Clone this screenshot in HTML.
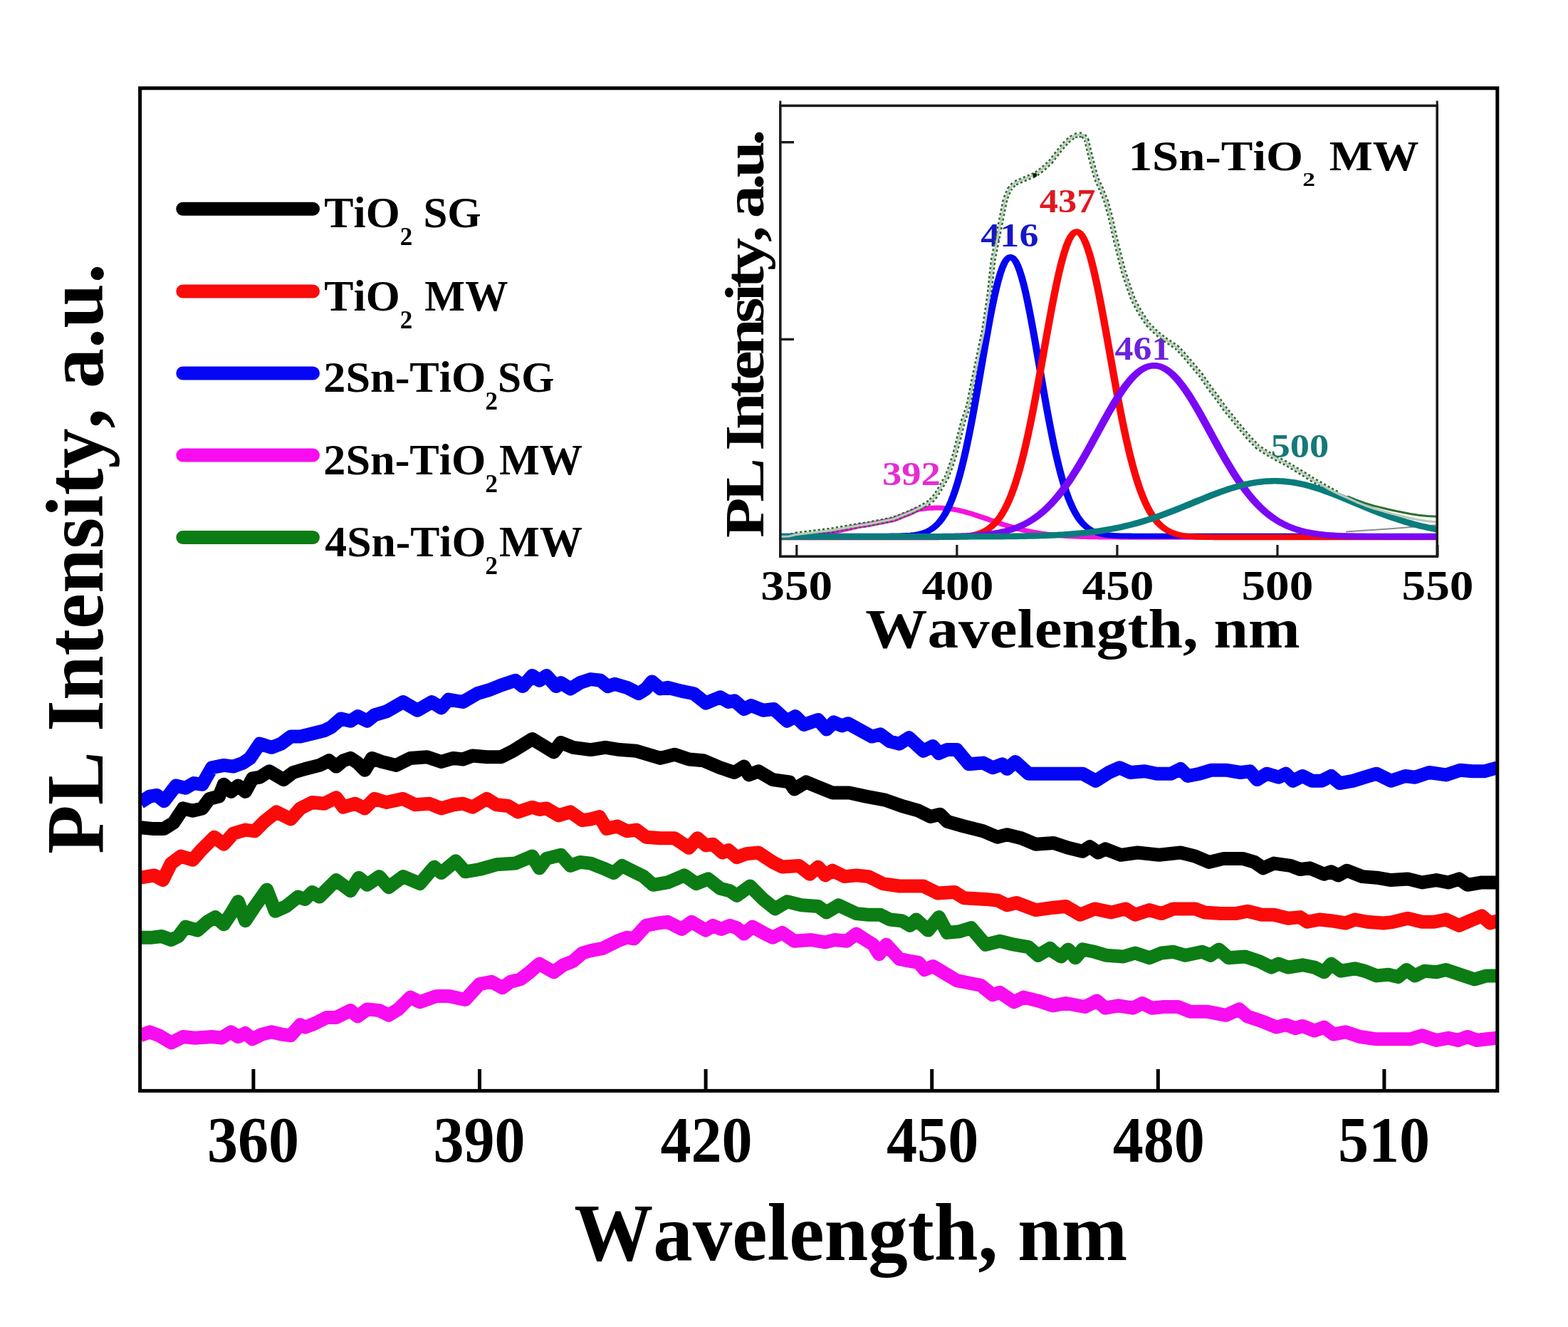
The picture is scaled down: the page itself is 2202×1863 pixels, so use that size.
<!DOCTYPE html>
<html lang="en"><head><meta charset="utf-8"><title>PL Intensity vs Wavelength</title>
<style>
html,body{margin:0;padding:0;background:#fff;}
body{width:2202px;height:1863px;overflow:hidden;}
svg{display:block;}
text{font-family:"Liberation Serif","DejaVu Serif",serif;font-weight:bold;fill:#000;font-kerning:none;white-space:pre;}
.c{fill:none;stroke-linejoin:round;stroke-linecap:butt;}
</style></head><body>
<svg width="2202" height="1863" viewBox="0 0 2202 1863">
<rect x="0" y="0" width="2202" height="1863" fill="#fff"/>
<defs><clipPath id="cm"><rect x="196.6" y="123.8" width="1906.2" height="1407.6"/></clipPath><clipPath id="ci"><rect x="1095.8" y="148.4" width="922.4" height="632.8"/></clipPath></defs>
<g id="main-curves" clip-path="url(#cm)">
<polyline class="c" stroke="#f80cf0" stroke-width="19" points="196.8,1453.8 210.2,1448.8 223.6,1453.8 240.4,1463.9 257.2,1455.5 274,1457.2 297.5,1455.5 310.9,1457.2 324.4,1448.8 334.4,1455.5 344.5,1450.5 354.6,1458.8 368,1452.1 381.4,1448.8 394.9,1452.1 408.3,1453.8 421.7,1438.7 428.4,1442.1 441.9,1437 458.7,1428.6 472.1,1428.6 492.2,1418.6 502.3,1427 515.7,1416.9 532.5,1418.6 545.9,1425.3 559.4,1416.9 576.2,1400.1 589.6,1406.8 613.1,1398.4 629.9,1398.4 653.4,1403.5 673.5,1381.6 690.3,1378.3 705.4,1386.7 717.2,1378.3 730.6,1374.9 744,1364.8 757.5,1353.1 777.6,1364.8 791,1354.8 804.5,1349.7 817.9,1338 829.6,1334.6 846.8,1331.3 866.9,1321.2 880.4,1316.2 890.4,1317.8 907.2,1299.4 924,1296 937.4,1294.3 957.6,1304.4 971,1294.3 991.2,1306.1 1001.2,1299.4 1013,1304.4 1024.7,1299.4 1034.8,1302.7 1044.9,1311.1 1056.6,1301.1 1071.7,1309.4 1085.2,1316.2 1098.6,1309.4 1115.4,1321.2 1138.9,1319.5 1159,1322.9 1172.4,1319.5 1189.2,1321.2 1202.7,1311.1 1212.7,1317.8 1226.2,1326.2 1234.6,1339.7 1244.6,1326.2 1263.1,1346.4 1279.9,1349.7 1290,1351.4 1298.3,1361.5 1310.1,1356.5 1326.9,1366.5 1343.7,1376.6 1360.5,1380 1377.2,1383.3 1394,1396.7 1404.1,1393.4 1424.2,1406.8 1437.7,1400.1 1457.8,1405.1 1478,1411.8 1480,1411.8 1496.8,1408.5 1523.6,1413.5 1540.4,1405.1 1552.2,1415.2 1570.6,1411.8 1590.8,1415.2 1604.2,1408.5 1617.6,1415.2 1634.4,1413.5 1654.6,1413.5 1671.4,1420.2 1694.9,1420.2 1721.7,1425.3 1740.2,1416.9 1751.9,1427 1772.1,1433.7 1792.2,1442.1 1805.7,1438.7 1819.1,1443.7 1829.2,1440.4 1845.9,1447.1 1859.4,1442.1 1872.8,1452.1 1889.6,1448.8 1909.7,1455.5 1933.2,1458.8 1956.7,1458.8 1980.2,1458.8 1997,1453.8 2017.2,1460.5 2034,1457.2 2047.4,1460.5 2060.8,1455.5 2074.2,1460.5 2087.7,1458.8 2102.8,1457.2"/>
<polyline class="c" stroke="#0b7d14" stroke-width="19" points="196.8,1316.2 213.6,1316.2 227,1314.5 240.4,1319.5 250.5,1314.5 260.6,1301.1 277.4,1306.1 290.8,1294.3 302.5,1287.6 314.3,1297.7 324.4,1282.6 334.4,1265.8 344.5,1292.7 357.9,1272.5 374.7,1249 386.5,1279.2 401.6,1272.5 418.4,1259.1 428.4,1262.4 438.5,1252.4 448.6,1259.1 458.7,1249 472.1,1235.6 492.2,1250.7 504,1232.2 515.7,1242.3 532.5,1230.6 545.9,1245.7 566.1,1230.6 589.6,1240.6 609.7,1217.1 619.8,1225.5 640,1208.7 653.4,1223.8 673.5,1220.5 697,1213.8 723.9,1212.1 747.4,1202 757.5,1218.8 767.5,1205.4 787.7,1200.3 801.1,1215.4 814.5,1210.4 829.6,1212.1 846.8,1218.8 861.9,1225.5 873.6,1215.4 887.1,1222.2 903.9,1230.6 917.3,1242.3 937.4,1238.9 960.9,1228.9 977.7,1240.6 994.5,1233.9 1011.3,1247.3 1024.7,1250.7 1034.8,1257.4 1053.3,1244 1071.7,1262.4 1088.5,1275.9 1105.3,1265.8 1125.4,1270.8 1148.9,1272.5 1160.7,1280.9 1177.5,1270.8 1202.7,1282.6 1219.4,1284.3 1236.2,1284.3 1249.7,1291 1266.5,1292.7 1278.2,1299.4 1286.6,1291 1303.4,1306.1 1318.5,1287.6 1330.2,1309.4 1347,1307.8 1363.8,1302.7 1384,1326.2 1404.1,1321.2 1424.2,1326.2 1444.4,1329.6 1457.8,1341.3 1474.6,1331.3 1479.6,1336.3 1490.1,1343 1500.1,1332.9 1510.2,1344.7 1520.3,1332.9 1537.1,1336.3 1553.9,1341.3 1577.4,1343 1594.1,1338 1614.3,1344.7 1631.1,1338 1647.9,1336.3 1664.7,1341.3 1688.2,1336.3 1699.9,1341.3 1711.7,1332.9 1725.1,1344.7 1748.6,1343 1768.7,1349.7 1785.5,1358.1 1795.6,1353.1 1809,1358.1 1829.2,1354.8 1845.9,1358.1 1859.4,1364.8 1869.4,1353.1 1882.9,1363.2 1903,1359.8 1916.5,1363.2 1933.2,1369.9 1950,1368.2 1963.5,1371.6 1975.2,1361.5 1987,1369.9 2000.4,1363.2 2017.2,1364.8 2030.6,1361.5 2050.7,1368.2 2070.9,1374.9 2087.7,1369.9 2102.8,1369.9"/>
<polyline class="c" stroke="#fb0a0a" stroke-width="19" points="196.8,1232.2 216.9,1228.9 228.7,1235.6 240.4,1212.1 253.9,1202 270.6,1207.1 284.1,1191.9 300.9,1175.2 314.3,1185.2 327.7,1170.1 344.5,1165.1 357.9,1166.8 371.4,1153.3 388.2,1139.9 408.3,1150 421.7,1134.9 438.5,1126.5 455.3,1128.2 472.1,1119.8 482.2,1133.2 498.9,1128.2 512.4,1134.9 525.8,1121.4 542.6,1126.5 566.1,1121.4 582.9,1129.8 603,1128.2 619.8,1134.9 636.6,1129.8 650,1128.2 663.5,1133.2 683.6,1121.4 697,1129.8 713.8,1131.5 727.2,1139.9 747.4,1133.2 757.5,1136.5 767.5,1134.9 784.3,1144.9 801.1,1139.9 817.9,1151.7 829.6,1150 841.8,1146.6 851.8,1163.4 866.9,1160 880.4,1166.8 893.8,1165.1 907.2,1175.2 927.4,1176.8 947.5,1176.8 967.6,1190.3 979.4,1176.8 991.2,1186.9 1001.2,1185.2 1014.7,1197 1023,1193.6 1034.8,1203.7 1048.2,1198.7 1065,1197 1085.2,1210.4 1098.6,1217.1 1122.1,1215.4 1137.2,1227.2 1148.9,1217.1 1159,1228.9 1169.1,1222.2 1185.9,1230.6 1202.7,1228.9 1219.4,1230.6 1239.6,1240.6 1263.1,1244 1296.7,1244 1316.8,1254.1 1340.3,1252.4 1353.7,1260.8 1384,1262.4 1400.7,1264.1 1414.2,1270.8 1427.6,1267.5 1454.5,1277.6 1479.6,1274.2 1496.8,1272.5 1516.9,1284.3 1537.1,1275.9 1560.6,1280.9 1580.7,1275.9 1594.1,1284.3 1614.3,1277.6 1631.1,1282.6 1647.9,1275.9 1678.1,1275.9 1691.5,1280.9 1715,1282.6 1735.2,1282.6 1751.9,1279.2 1772.1,1284.3 1788.9,1284.3 1809,1289.3 1825.8,1287.6 1835.9,1294.3 1852.7,1291 1869.4,1292.7 1889.6,1296 1903,1291 1919.8,1294.3 1943.3,1296 1956.7,1294.3 1976.9,1289.3 1997,1294.3 2013.8,1294.3 2030.6,1291 2049.1,1299.4 2064.2,1292.7 2081,1285.9 2092.7,1296 2102.8,1292.7"/>
<polyline class="c" stroke="#000000" stroke-width="19" points="196.8,1161.7 213.6,1163.4 230.4,1163.4 243.8,1155 257.2,1134.9 270.6,1138.2 284.1,1134.9 294.1,1121.4 307.6,1118.1 314.3,1101.3 324.4,1111.4 334.4,1103 344.5,1111.4 354.6,1092.9 364.7,1091.2 378.1,1082.8 398.2,1094.6 411.7,1084.5 428.4,1079.5 448.6,1074.4 462,1067.7 472.1,1076.1 482.2,1067.7 492.2,1064.4 502.3,1071.1 512.4,1081.2 522.4,1064.4 535.9,1069.4 556,1074.4 576.2,1064.4 599.7,1062.7 619.8,1069.4 636.6,1064.4 650,1066 663.5,1061 683.6,1062.7 703.7,1062.7 720.5,1054.3 734,1045.9 747.4,1037.5 764.2,1047.6 777.6,1056 787.7,1042.5 804.5,1049.3 829.6,1052.6 850.1,1049.3 870.3,1052.6 893.8,1054.3 910.6,1059.3 927.4,1064.4 947.5,1059.3 967.6,1066 987.8,1067.7 1011.3,1077.8 1031.4,1084.5 1044.9,1076.1 1051.6,1087.9 1065,1082.8 1085.2,1094.6 1108.7,1097.9 1115.4,1108 1132.2,1097.9 1152.3,1106.3 1169.1,1113 1192.6,1113 1216.1,1118.1 1242.9,1123.1 1266.5,1131.5 1290,1138.2 1306.7,1146.6 1320.2,1143.3 1330.2,1153.3 1353.7,1160 1380.6,1166.8 1400.7,1175.2 1414.2,1171.8 1434.3,1176.8 1454.5,1185.2 1479.6,1183.5 1500.1,1190.3 1520.3,1195.3 1530.4,1188.6 1542.1,1197 1552.2,1191.9 1574,1200.3 1597.5,1197 1627.7,1200.3 1657.9,1197 1678.1,1202 1698.2,1210.4 1718.4,1205.4 1745.2,1205.4 1762,1210.4 1773.8,1218.8 1788.9,1212.1 1812.4,1215.4 1825.8,1220.5 1839.2,1218.8 1859.4,1227.2 1869.4,1223.8 1879.5,1228.9 1891.3,1222.2 1913.1,1230.6 1933.2,1232.2 1953.4,1235.6 1976.9,1233.9 1997,1238.9 2017.2,1235.6 2034,1238.9 2049.1,1233.9 2060.8,1242.3 2081,1238.9 2102.8,1238.9"/>
<polyline class="c" stroke="#0505f5" stroke-width="19" points="196.8,1126.5 210.2,1118.1 220.3,1116.4 230.4,1124.8 247.1,1103 260.6,1106.3 272.3,1099.6 284.1,1101.3 297.5,1077.8 314.3,1074.4 327.7,1076.1 341.2,1071.1 351.2,1064.4 364.7,1044.2 381.4,1049.3 394.9,1044.2 408.3,1034.1 421.7,1034.1 435.2,1030.8 455.3,1025.8 465.4,1020.7 478.8,1009 492.2,1012.3 502.3,1005.6 515.7,1012.3 525.8,1003.9 542.6,998.9 566.1,985.5 586.2,997.2 606.4,985.5 619.8,993.9 629.9,982.1 650,985.5 670.2,973.7 687,968.7 703.7,962 723.9,955.3 734,963.6 747.4,948.5 757.5,955.3 767.5,948.5 781,963.6 787.7,958.6 801.1,967 814.5,958.6 829.6,953.6 843.4,955.3 853.5,963.6 863.6,960.3 880.4,965.3 897.1,973.7 907.2,967 915.6,956.9 927.4,967 937.4,965.3 957.6,970.4 974.4,973.7 991.2,987.1 1011.3,978.8 1023,985.5 1031.4,983.8 1044.9,995.5 1054.9,990.5 1071.7,997.2 1086.8,995.5 1105.3,1012.3 1117.1,1005.6 1128.8,1017.4 1148.9,1010.6 1160.7,1024.1 1170.8,1014 1182.5,1019 1190.9,1015.7 1209.4,1025.8 1224.5,1034.1 1236.2,1030.8 1249.7,1040.9 1263.1,1044.2 1276.5,1035.8 1296.7,1054.3 1310.1,1047.6 1318.5,1057.6 1330.2,1052.6 1343.7,1052.6 1360.5,1072.8 1380.6,1071.1 1394,1077.8 1407.5,1072.8 1414.2,1079.5 1425.9,1069.4 1444.4,1086.2 1467.9,1086.2 1479.6,1086.2 1500.1,1086.2 1520.3,1086.2 1538.8,1096.3 1557.2,1084.5 1572.3,1077.8 1587.4,1084.5 1607.6,1082.8 1624.4,1086.2 1644.5,1086.2 1657.9,1079.5 1668,1089.5 1684.8,1086.2 1701.6,1081.2 1721.7,1081.2 1741.9,1084.5 1755.3,1082.8 1765.4,1094.6 1778.8,1086.2 1795.6,1091.2 1805.7,1086.2 1815.7,1096.3 1829.2,1089.5 1842.6,1096.3 1856,1096.3 1869.4,1089.5 1881.2,1099.6 1899.7,1096.3 1916.5,1091.2 1933.2,1086.2 1953.4,1096.3 1973.5,1089.5 1987,1091.2 2007.1,1084.5 2030.6,1087.9 2050.7,1081.2 2067.5,1082.8 2084.3,1082.8 2102.8,1077.8"/>
</g>
<rect x="196.6" y="123.8" width="1906.2" height="1407.6" fill="none" stroke="#000" stroke-width="5"/>
<line x1="355.9" y1="1501" x2="355.9" y2="1530" stroke="#000" stroke-width="5"/>
<text transform="translate(290.9,1630.5) scale(0.9570,1)" font-size="90">360</text>
<line x1="673.5" y1="1501" x2="673.5" y2="1530" stroke="#000" stroke-width="5"/>
<text transform="translate(608.5,1630.5) scale(0.9570,1)" font-size="90">390</text>
<line x1="991.1" y1="1501" x2="991.1" y2="1530" stroke="#000" stroke-width="5"/>
<text transform="translate(927.45,1630.5) scale(0.9570,1)" font-size="90">420</text>
<line x1="1308.7" y1="1501" x2="1308.7" y2="1530" stroke="#000" stroke-width="5"/>
<text transform="translate(1245.05,1630.5) scale(0.9570,1)" font-size="90">450</text>
<line x1="1626.3000000000002" y1="1501" x2="1626.3000000000002" y2="1530" stroke="#000" stroke-width="5"/>
<text transform="translate(1562.65,1630.5) scale(0.9570,1)" font-size="90">480</text>
<line x1="1943.9" y1="1501" x2="1943.9" y2="1530" stroke="#000" stroke-width="5"/>
<text transform="translate(1878.9,1630.5) scale(0.9570,1)" font-size="90">510</text>
<text transform="translate(806.3,1768.8) scale(0.9788,1)" font-size="113.4">Wavelength, nm</text>
<text transform="translate(144.3,1198.96) rotate(-90) scale(0.9878,1)" font-size="114">PL Intensity, a.u.</text>
<g id="legend">
<line x1="256.8" y1="293.2" x2="439.5" y2="293.2" stroke="#000000" stroke-width="19" stroke-linecap="round"/>
<text transform="scale(1.0000,1)" font-size="61.5"><tspan x="455.34" y="319.4" textLength="106.35" lengthAdjust="spacingAndGlyphs">TiO</tspan><tspan x="561.71" y="344.4" font-size="35">2</tspan> <tspan x="594.44" y="319.4" textLength="81.3" lengthAdjust="spacingAndGlyphs">SG</tspan></text>
<line x1="256.8" y1="409.0" x2="439.5" y2="409.0" stroke="#fb0a0a" stroke-width="19" stroke-linecap="round"/>
<text transform="scale(1.0000,1)" font-size="61.5"><tspan x="455.34" y="435.6" textLength="106.35" lengthAdjust="spacingAndGlyphs">TiO</tspan><tspan x="561.71" y="460.6" font-size="35">2</tspan> <tspan x="596.36" y="435.6" textLength="116.98" lengthAdjust="spacingAndGlyphs">MW</tspan></text>
<line x1="256.8" y1="524" x2="439.5" y2="524" stroke="#0505f5" stroke-width="19" stroke-linecap="round"/>
<text transform="scale(1.0000,1)" font-size="61.5"><tspan x="454.36" y="550" textLength="228.15" lengthAdjust="spacingAndGlyphs">2Sn-TiO</tspan><tspan x="681.61" y="575" font-size="35">2</tspan><tspan x="699.12" y="550" textLength="79.21" lengthAdjust="spacingAndGlyphs">SG</tspan></text>
<line x1="256.8" y1="639.1" x2="439.5" y2="639.1" stroke="#f80cf0" stroke-width="19" stroke-linecap="round"/>
<text transform="scale(1.0000,1)" font-size="61.5"><tspan x="454.36" y="665.6" textLength="228.15" lengthAdjust="spacingAndGlyphs">2Sn-TiO</tspan><tspan x="681.61" y="690.6" font-size="35">2</tspan><tspan x="700.96" y="665.6" textLength="116.98" lengthAdjust="spacingAndGlyphs">MW</tspan></text>
<line x1="256.8" y1="754.5" x2="439.5" y2="754.5" stroke="#0b7d14" stroke-width="19" stroke-linecap="round"/>
<text transform="scale(1.0000,1)" font-size="61.5"><tspan x="456.3" y="780.8" textLength="226.18" lengthAdjust="spacingAndGlyphs">4Sn-TiO</tspan><tspan x="681.61" y="805.8" font-size="35">2</tspan><tspan x="700.96" y="780.8" textLength="116.98" lengthAdjust="spacingAndGlyphs">MW</tspan></text>
</g>
<g id="inset">
<rect x="1095.8" y="148.4" width="922.4" height="632.8" fill="#fff" stroke="none"/>
<text transform="translate(1238.99,681.3) scale(1.1619,1)" font-size="47" style="fill:#e52bd6">392</text>
<text transform="translate(1377.3,345.8) scale(1.1510,1)" font-size="47" style="fill:#1616c8">416</text>
<text transform="translate(1459.8,297.7) scale(1.1137,1)" font-size="47" style="fill:#e01820">437</text>
<text transform="translate(1565.6,505) scale(1.1025,1)" font-size="47" style="fill:#6a22dc">461</text>
<text transform="translate(1784.5,642.1) scale(1.1604,1)" font-size="47" style="fill:#157878">500</text>
<g clip-path="url(#ci)">
<polyline class="c" transform="scale(1.3,1)" stroke="#f414dc" stroke-width="7" points="838.31,754.2 840.62,754.2 842.92,754.18 845.23,754.08 847.54,753.99 849.85,753.9 852.15,753.81 854.46,753.1 856.77,752.51 859.08,752.34 861.38,752.16 863.69,751.97 866,751.76 868.31,751.53 870.62,751.29 872.92,751.03 875.23,750.75 877.54,750.46 879.85,750.14 882.15,749.8 884.46,749.44 886.77,749.06 889.08,748.65 891.38,748.22 893.69,747.77 896,747.29 898.31,746.79 900.62,746.26 902.92,745.71 905.23,745.13 907.54,744.53 909.85,743.9 912.15,743.24 914.46,742.56 916.77,741.85 919.08,741.12 921.38,740.37 923.69,739.59 926,738.83 928.31,738.35 930.62,737.91 932.92,737.46 935.23,737.02 937.54,736.58 939.85,736.05 942.15,735.45 944.46,734.86 946.77,734.27 949.08,733.68 951.38,733.09 953.69,732.5 956,731.91 958.31,731.31 960.62,730.72 962.92,730.13 965.23,729.48 967.54,728.29 969.85,727.09 972.15,725.9 974.46,724.7 976.77,723.51 979.08,722.31 981.38,721.12 983.69,719.83 986,718.42 988.31,717.01 990.62,715.6 992.92,714.99 995.23,714.56 997.54,714.17 999.85,713.84 1002.15,713.56 1004.46,713.33 1006.77,713.17 1009.08,713.06 1011.38,713 1013.69,713.01 1016,713.09 1018.31,713.24 1020.62,713.46 1022.92,713.75 1025.23,714.11 1027.54,714.53 1029.85,715.01 1032.15,715.56 1034.46,716.17 1036.77,716.83 1039.08,717.54 1041.38,718.3 1043.69,719.11 1046,719.96 1048.31,720.85 1050.62,721.77 1052.92,722.71 1055.23,723.69 1057.54,724.68 1059.85,725.7 1062.15,726.72 1064.46,727.75 1066.77,728.79 1069.08,729.84 1071.38,730.87 1073.69,731.91 1076,732.93 1078.31,733.94 1080.62,734.94 1082.92,735.92 1085.23,736.88 1087.54,737.82 1089.85,738.74 1092.15,739.63 1094.46,740.49 1096.77,741.32 1099.08,742.12 1101.38,742.9 1103.69,743.64 1106,744.35 1108.31,745.03 1110.62,745.67 1112.92,746.29 1115.23,746.87 1117.54,747.42 1119.85,747.94 1122.15,748.44 1124.46,748.9 1126.77,749.33 1129.08,749.74 1131.38,750.12 1133.69,750.47 1136,750.8 1138.31,751.1 1140.62,751.38 1142.92,751.65 1145.23,751.89 1147.54,752.11 1149.85,752.31 1152.15,752.5 1154.46,752.67 1156.77,752.83 1159.08,752.97 1161.38,753.1 1163.69,753.22 1166,753.32 1168.31,753.42 1170.62,753.51 1172.92,753.59 1175.23,753.66 1177.54,753.72 1179.85,753.78 1182.15,753.83 1184.46,753.87 1186.77,753.91 1189.08,753.95 1191.38,753.98 1193.69,754.01 1196,754.03 1198.31,754.05 1200.62,754.07 1202.92,754.09 1205.23,754.1 1207.54,754.12 1209.85,754.13 1212.15,754.14 1214.46,754.15 1216.77,754.15 1219.08,754.16 1221.38,754.17 1223.69,754.17 1226,754.18 1228.31,754.18 1230.62,754.18 1232.92,754.19 1235.23,754.19 1237.54,754.19 1239.85,754.19 1242.15,754.19 1244.46,754.19 1246.77,754.19 1249.08,754.2 1251.38,754.2 1253.69,754.2 1256,754.2 1258.31,754.2 1260.62,754.2 1262.92,754.2 1265.23,754.2 1267.54,754.2 1269.85,754.2 1272.15,754.2 1274.46,754.2 1276.77,754.2 1279.08,754.2 1281.38,754.2 1283.69,754.2 1286,754.2 1288.31,754.2 1290.62,754.2 1292.92,754.2 1295.23,754.2 1297.54,754.2 1299.85,754.2 1302.15,754.2 1304.46,754.2 1306.77,754.2 1309.08,754.2 1311.38,754.2 1313.69,754.2 1316,754.2 1318.31,754.2 1320.62,754.2 1322.92,754.2 1325.23,754.2 1327.54,754.2 1329.85,754.2 1332.15,754.2 1334.46,754.2 1336.77,754.2 1339.08,754.2 1341.38,754.2 1343.69,754.2 1346,754.2 1348.31,754.2 1350.62,754.2 1352.92,754.2 1355.23,754.2 1357.54,754.2 1359.85,754.2 1362.15,754.2 1364.46,754.2 1366.77,754.2 1369.08,754.2 1371.38,754.2 1373.69,754.2 1376,754.2 1378.31,754.2 1380.62,754.2 1382.92,754.2 1385.23,754.2 1387.54,754.2 1389.85,754.2 1392.15,754.2 1394.46,754.2 1396.77,754.2 1399.08,754.2 1401.38,754.2 1403.69,754.2 1406,754.2 1408.31,754.2 1410.62,754.2 1412.92,754.2 1415.23,754.2 1417.54,754.2 1419.85,754.2 1422.15,754.2 1424.46,754.2 1426.77,754.2 1429.08,754.2 1431.38,754.2 1433.69,754.2 1436,754.2 1438.31,754.2 1440.62,754.2 1442.92,754.2 1445.23,754.2 1447.54,754.2 1449.85,754.2 1452.15,754.2 1454.46,754.2 1456.77,754.2 1459.08,754.2 1461.38,754.2 1463.69,754.2 1466,754.2 1468.31,754.2 1470.62,754.2 1472.92,754.2 1475.23,754.2 1477.54,754.2 1479.85,754.2 1482.15,754.2 1484.46,754.2 1486.77,754.2 1489.08,754.2 1491.38,754.2 1493.69,754.2 1496,754.2 1498.31,754.2 1500.62,754.2 1502.92,754.2 1505.23,754.2 1507.54,754.2 1509.85,754.2 1512.15,754.2 1514.46,754.2 1516.77,754.2 1519.08,754.2 1521.38,754.2 1523.69,754.2 1526,754.2 1528.31,754.2 1530.62,754.2 1532.92,754.2 1535.23,754.2 1537.54,754.2 1539.85,754.2 1542.15,754.2 1544.46,754.2 1546.77,754.2 1549.08,754.2 1551.38,754.2 1553.69,754.2 1556,754.2"/>
<polyline class="c" stroke="#2a672c" stroke-width="7.8" stroke-dasharray="3.3 3.1" points="1091.8,753.5 1108,753 1118.8,750.3 1166.7,744.6 1205.1,737.8 1220,735.6 1254.5,728.8 1277.6,719.6 1294.8,711.5 1306.3,704.6 1314.4,695.4 1321.3,683.9 1329.4,670.1 1335.1,655.1 1340.9,637.8 1346.6,614.8 1352.4,591.8 1360.3,568.8 1364.7,545.7 1373.2,505 1381.7,465.1 1389.2,415 1394.5,365.7 1403.7,319.6 1408.3,296.6 1411.8,279.4 1417.6,265.5 1424.5,257.5 1440.6,250.6 1454.4,244.8 1463.6,237.9 1475.1,227.6 1486.6,212.6 1498.1,198.8 1508.5,190.7 1515,189.2 1521.2,189.6 1525.8,196.5 1532.7,225.3 1539.6,250.6 1546.5,265.5 1553.4,282.8 1559.1,303.5 1566,334.5 1571.8,357.6 1577.6,380.6 1584.5,401.3 1591.4,420.9 1600.6,438.1 1612.1,455.4 1623.6,466.9 1635.1,476.1 1652.4,487.5 1661,496.5 1675.1,513 1686.6,526.8 1698.1,543.7 1709.7,559.1 1720,573.5 1737.4,595.1 1752,612.5 1766.1,627.5 1780,636.4 1792.5,643.6 1804.9,649.9 1817.4,657.4 1829.9,664.8 1842.3,672.8 1854.8,679.8 1867.3,687.3 1879.8,693.5"/>
<polyline class="c" stroke="#2f6e31" stroke-width="3" points="1892.2,697 1904.7,702 1917.2,706.4 1929.6,710.1 1942.1,713.2 1954.6,716.3 1967,718.8 1979.5,721.3 1992,723.2 2004.4,724.4 2022.2,725.3"/>
<polyline class="c" stroke="#8c8c8c" stroke-width="2" points="1890,746.5 1950,742.5 2024,736.5"/>
<polyline class="c" transform="scale(1.3,1)" stroke="#0505f0" stroke-width="7.8" points="838.31,752.6 840.62,752.6 842.92,752.6 845.23,752.6 847.54,752.6 849.85,752.6 852.15,752.6 854.46,752.6 856.77,752.6 859.08,752.6 861.38,752.6 863.69,752.6 866,752.6 868.31,752.6 870.62,752.6 872.92,752.6 875.23,752.6 877.54,752.6 879.85,752.6 882.15,752.6 884.46,752.6 886.77,752.6 889.08,752.6 891.38,752.6 893.69,752.6 896,752.6 898.31,752.6 900.62,752.6 902.92,752.6 905.23,752.6 907.54,752.6 909.85,752.6 912.15,752.6 914.46,752.6 916.77,752.6 919.08,752.6 921.38,752.6 923.69,752.6 926,752.6 928.31,752.6 930.62,752.6 932.92,752.6 935.23,752.6 937.54,752.6 939.85,752.6 942.15,752.6 944.46,752.59 946.77,752.59 949.08,752.59 951.38,752.58 953.69,752.57 956,752.57 958.31,752.55 960.62,752.53 962.92,752.51 965.23,752.48 967.54,752.44 969.85,752.39 972.15,752.32 974.46,752.23 976.77,752.11 979.08,751.96 981.38,751.77 983.69,751.53 986,751.23 988.31,750.85 990.62,750.37 992.92,749.79 995.23,749.07 997.54,748.18 999.85,747.11 1002.15,745.81 1004.46,744.25 1006.77,742.39 1009.08,740.18 1011.38,737.58 1013.69,734.52 1016,730.97 1018.31,726.85 1020.62,722.11 1022.92,716.7 1025.23,710.55 1027.54,703.61 1029.85,695.84 1032.15,687.19 1034.46,677.63 1036.77,667.14 1039.08,655.7 1041.38,643.32 1043.69,630.03 1046,615.86 1048.31,600.88 1050.62,585.16 1052.92,568.81 1055.23,551.95 1057.54,534.72 1059.85,517.29 1062.15,499.84 1064.46,482.56 1066.77,465.65 1069.08,449.32 1071.38,433.8 1073.69,419.29 1076,405.99 1078.31,394.11 1080.62,383.83 1082.92,375.29 1085.23,368.63 1087.54,363.97 1089.85,361.37 1092.15,360.88 1094.46,362.5 1096.77,366.2 1099.08,371.94 1101.38,379.61 1103.69,389.1 1106,400.26 1108.31,412.92 1110.62,426.89 1112.92,441.97 1115.23,457.94 1117.54,474.61 1119.85,491.74 1122.15,509.14 1124.46,526.6 1126.77,543.94 1129.08,560.99 1131.38,577.6 1133.69,593.63 1136,608.96 1138.31,623.52 1140.62,637.23 1142.92,650.04 1145.23,661.92 1147.54,672.85 1149.85,682.85 1152.15,691.92 1154.46,700.09 1156.77,707.41 1159.08,713.92 1161.38,719.67 1163.69,724.72 1166,729.12 1168.31,732.93 1170.62,736.21 1172.92,739.02 1175.23,741.41 1177.54,743.43 1179.85,745.12 1182.15,746.53 1184.46,747.71 1186.77,748.68 1189.08,749.47 1191.38,750.12 1193.69,750.64 1196,751.06 1198.31,751.4 1200.62,751.67 1202.92,751.88 1205.23,752.05 1207.54,752.18 1209.85,752.28 1212.15,752.36 1214.46,752.42 1216.77,752.46 1219.08,752.5 1221.38,752.52 1223.69,752.54 1226,752.56 1228.31,752.57 1230.62,752.58 1232.92,752.58 1235.23,752.59 1237.54,752.59 1239.85,752.59 1242.15,752.6 1244.46,752.6 1246.77,752.6 1249.08,752.6 1251.38,752.6 1253.69,752.6 1256,752.6 1258.31,752.6 1260.62,752.6 1262.92,752.6 1265.23,752.6 1267.54,752.6 1269.85,752.6 1272.15,752.6 1274.46,752.6 1276.77,752.6 1279.08,752.6 1281.38,752.6 1283.69,752.6 1286,752.6 1288.31,752.6 1290.62,752.6 1292.92,752.6 1295.23,752.6 1297.54,752.6 1299.85,752.6 1302.15,752.6 1304.46,752.6 1306.77,752.6 1309.08,752.6 1311.38,752.6 1313.69,752.6 1316,752.6 1318.31,752.6 1320.62,752.6 1322.92,752.6 1325.23,752.6 1327.54,752.6 1329.85,752.6 1332.15,752.6 1334.46,752.6 1336.77,752.6 1339.08,752.6 1341.38,752.6 1343.69,752.6 1346,752.6 1348.31,752.6 1350.62,752.6 1352.92,752.6 1355.23,752.6 1357.54,752.6 1359.85,752.6 1362.15,752.6 1364.46,752.6 1366.77,752.6 1369.08,752.6 1371.38,752.6 1373.69,752.6 1376,752.6 1378.31,752.6 1380.62,752.6 1382.92,752.6 1385.23,752.6 1387.54,752.6 1389.85,752.6 1392.15,752.6 1394.46,752.6 1396.77,752.6 1399.08,752.6 1401.38,752.6 1403.69,752.6 1406,752.6 1408.31,752.6 1410.62,752.6 1412.92,752.6 1415.23,752.6 1417.54,752.6 1419.85,752.6 1422.15,752.6 1424.46,752.6 1426.77,752.6 1429.08,752.6 1431.38,752.6 1433.69,752.6 1436,752.6 1438.31,752.6 1440.62,752.6 1442.92,752.6 1445.23,752.6 1447.54,752.6 1449.85,752.6 1452.15,752.6 1454.46,752.6 1456.77,752.6 1459.08,752.6 1461.38,752.6 1463.69,752.6 1466,752.6 1468.31,752.6 1470.62,752.6 1472.92,752.6 1475.23,752.6 1477.54,752.6 1479.85,752.6 1482.15,752.6 1484.46,752.6 1486.77,752.6 1489.08,752.6 1491.38,752.6 1493.69,752.6 1496,752.6 1498.31,752.6 1500.62,752.6 1502.92,752.6 1505.23,752.6 1507.54,752.6 1509.85,752.6 1512.15,752.6 1514.46,752.6 1516.77,752.6 1519.08,752.6 1521.38,752.6 1523.69,752.6 1526,752.6 1528.31,752.6 1530.62,752.6 1532.92,752.6 1535.23,752.6 1537.54,752.6 1539.85,752.6 1542.15,752.6 1544.46,752.6 1546.77,752.6 1549.08,752.6 1551.38,752.6 1553.69,752.6 1556,752.6 1557.08,752.6"/>
<polyline class="c" transform="scale(1.3,1)" stroke="#fa0808" stroke-width="8" points="838.31,754.2 840.62,754.2 842.92,754.2 845.23,754.2 847.54,754.2 849.85,754.2 852.15,754.2 854.46,754.2 856.77,754.2 859.08,754.2 861.38,754.2 863.69,754.2 866,754.2 868.31,754.2 870.62,754.2 872.92,754.2 875.23,754.2 877.54,754.2 879.85,754.2 882.15,754.2 884.46,754.2 886.77,754.2 889.08,754.2 891.38,754.2 893.69,754.2 896,754.2 898.31,754.2 900.62,754.2 902.92,754.2 905.23,754.2 907.54,754.2 909.85,754.2 912.15,754.2 914.46,754.2 916.77,754.2 919.08,754.2 921.38,754.2 923.69,754.2 926,754.2 928.31,754.2 930.62,754.2 932.92,754.2 935.23,754.2 937.54,754.2 939.85,754.2 942.15,754.2 944.46,754.2 946.77,754.2 949.08,754.2 951.38,754.2 953.69,754.2 956,754.2 958.31,754.2 960.62,754.2 962.92,754.2 965.23,754.2 967.54,754.2 969.85,754.2 972.15,754.2 974.46,754.2 976.77,754.2 979.08,754.2 981.38,754.2 983.69,754.2 986,754.2 988.31,754.2 990.62,754.2 992.92,754.2 995.23,754.19 997.54,754.19 999.85,754.19 1002.15,754.18 1004.46,754.18 1006.77,754.17 1009.08,754.16 1011.38,754.15 1013.69,754.14 1016,754.12 1018.31,754.09 1020.62,754.06 1022.92,754.02 1025.23,753.97 1027.54,753.9 1029.85,753.82 1032.15,753.72 1034.46,753.59 1036.77,753.42 1039.08,753.23 1041.38,752.98 1043.69,752.68 1046,752.31 1048.31,751.87 1050.62,751.33 1052.92,750.68 1055.23,749.91 1057.54,748.98 1059.85,747.89 1062.15,746.59 1064.46,745.07 1066.77,743.29 1069.08,741.22 1071.38,738.82 1073.69,736.05 1076,732.88 1078.31,729.26 1080.62,725.14 1082.92,720.48 1085.23,715.25 1087.54,709.39 1089.85,702.86 1092.15,695.64 1094.46,687.67 1096.77,678.95 1099.08,669.43 1101.38,659.12 1103.69,648 1106,636.08 1108.31,623.37 1110.62,609.9 1112.92,595.72 1115.23,580.88 1117.54,565.44 1119.85,549.49 1122.15,533.13 1124.46,516.47 1126.77,499.63 1129.08,482.74 1131.38,465.95 1133.69,449.41 1136,433.27 1138.31,417.71 1140.62,402.87 1142.92,388.92 1145.23,376.02 1147.54,364.31 1149.85,353.92 1152.15,344.99 1154.46,337.62 1156.77,331.9 1159.08,327.91 1161.38,325.69 1163.69,325.26 1166,326.65 1168.31,329.82 1170.62,334.74 1172.92,341.35 1175.23,349.57 1177.54,359.29 1179.85,370.4 1182.15,382.76 1184.46,396.24 1186.77,410.68 1189.08,425.93 1191.38,441.82 1193.69,458.19 1196,474.88 1198.31,491.75 1200.62,508.63 1202.92,525.39 1205.23,541.9 1207.54,558.06 1209.85,573.74 1212.15,588.87 1214.46,603.37 1216.77,617.17 1219.08,630.24 1221.38,642.53 1223.69,654.03 1226,664.72 1228.31,674.61 1230.62,683.7 1232.92,692.01 1235.23,699.58 1237.54,706.43 1239.85,712.59 1242.15,718.11 1244.46,723.03 1246.77,727.4 1249.08,731.25 1251.38,734.63 1253.69,737.58 1256,740.14 1258.31,742.36 1260.62,744.27 1262.92,745.91 1265.23,747.31 1267.54,748.49 1269.85,749.5 1272.15,750.34 1274.46,751.04 1276.77,751.63 1279.08,752.12 1281.38,752.52 1283.69,752.85 1286,753.12 1288.31,753.34 1290.62,753.51 1292.92,753.66 1295.23,753.77 1297.54,753.87 1299.85,753.94 1302.15,754 1304.46,754.04 1306.77,754.08 1309.08,754.11 1311.38,754.13 1313.69,754.15 1316,754.16 1318.31,754.17 1320.62,754.18 1322.92,754.18 1325.23,754.19 1327.54,754.19 1329.85,754.19 1332.15,754.19 1334.46,754.2 1336.77,754.2 1339.08,754.2 1341.38,754.2 1343.69,754.2 1346,754.2 1348.31,754.2 1350.62,754.2 1352.92,754.2 1355.23,754.2 1357.54,754.2 1359.85,754.2 1362.15,754.2 1364.46,754.2 1366.77,754.2 1369.08,754.2 1371.38,754.2 1373.69,754.2 1376,754.2 1378.31,754.2 1380.62,754.2 1382.92,754.2 1385.23,754.2 1387.54,754.2 1389.85,754.2 1392.15,754.2 1394.46,754.2 1396.77,754.2 1399.08,754.2 1401.38,754.2 1403.69,754.2 1406,754.2 1408.31,754.2 1410.62,754.2 1412.92,754.2 1415.23,754.2 1417.54,754.2 1419.85,754.2 1422.15,754.2 1424.46,754.2 1426.77,754.2 1429.08,754.2 1431.38,754.2 1433.69,754.2 1436,754.2 1438.31,754.2 1440.62,754.2 1442.92,754.2 1445.23,754.2 1447.54,754.2 1449.85,754.2 1452.15,754.2 1454.46,754.2 1456.77,754.2 1459.08,754.2 1461.38,754.2 1463.69,754.2 1466,754.2 1468.31,754.2 1470.62,754.2 1472.92,754.2 1475.23,754.2 1477.54,754.2 1479.85,754.2 1482.15,754.2 1484.46,754.2 1486.77,754.2 1489.08,754.2 1491.38,754.2 1493.69,754.2 1496,754.2 1498.31,754.2 1500.62,754.2 1502.92,754.2 1505.23,754.2 1507.54,754.2 1509.85,754.2 1512.15,754.2 1514.46,754.2 1516.77,754.2 1519.08,754.2 1521.38,754.2 1523.69,754.2 1526,754.2 1528.31,754.2 1530.62,754.2 1532.92,754.2 1535.23,754.2 1537.54,754.2 1539.85,754.2 1542.15,754.2 1544.46,754.2 1546.77,754.2 1549.08,754.2 1551.38,754.2 1553.69,754.2 1556,754.2 1557.08,754.2"/>
<polyline class="c" transform="scale(1.3,1)" stroke="#7a08f6" stroke-width="8.6" points="838.31,753.4 840.62,753.4 842.92,753.4 845.23,753.4 847.54,753.4 849.85,753.4 852.15,753.4 854.46,753.4 856.77,753.4 859.08,753.4 861.38,753.4 863.69,753.4 866,753.4 868.31,753.4 870.62,753.4 872.92,753.4 875.23,753.4 877.54,753.4 879.85,753.4 882.15,753.4 884.46,753.4 886.77,753.4 889.08,753.4 891.38,753.4 893.69,753.4 896,753.4 898.31,753.4 900.62,753.4 902.92,753.4 905.23,753.4 907.54,753.4 909.85,753.4 912.15,753.4 914.46,753.4 916.77,753.4 919.08,753.4 921.38,753.4 923.69,753.4 926,753.4 928.31,753.4 930.62,753.4 932.92,753.4 935.23,753.4 937.54,753.4 939.85,753.4 942.15,753.4 944.46,753.4 946.77,753.4 949.08,753.4 951.38,753.4 953.69,753.4 956,753.4 958.31,753.4 960.62,753.4 962.92,753.39 965.23,753.39 967.54,753.39 969.85,753.39 972.15,753.39 974.46,753.39 976.77,753.39 979.08,753.38 981.38,753.38 983.69,753.38 986,753.37 988.31,753.37 990.62,753.36 992.92,753.36 995.23,753.35 997.54,753.34 999.85,753.33 1002.15,753.32 1004.46,753.31 1006.77,753.29 1009.08,753.27 1011.38,753.25 1013.69,753.23 1016,753.2 1018.31,753.17 1020.62,753.14 1022.92,753.1 1025.23,753.06 1027.54,753.01 1029.85,752.95 1032.15,752.89 1034.46,752.81 1036.77,752.73 1039.08,752.64 1041.38,752.54 1043.69,752.42 1046,752.29 1048.31,752.15 1050.62,751.99 1052.92,751.81 1055.23,751.61 1057.54,751.38 1059.85,751.13 1062.15,750.86 1064.46,750.56 1066.77,750.22 1069.08,749.85 1071.38,749.44 1073.69,748.99 1076,748.5 1078.31,747.96 1080.62,747.37 1082.92,746.72 1085.23,746.02 1087.54,745.25 1089.85,744.41 1092.15,743.51 1094.46,742.53 1096.77,741.47 1099.08,740.32 1101.38,739.08 1103.69,737.75 1106,736.32 1108.31,734.78 1110.62,733.14 1112.92,731.38 1115.23,729.51 1117.54,727.51 1119.85,725.38 1122.15,723.12 1124.46,720.73 1126.77,718.2 1129.08,715.52 1131.38,712.7 1133.69,709.73 1136,706.61 1138.31,703.34 1140.62,699.92 1142.92,696.35 1145.23,692.62 1147.54,688.74 1149.85,684.72 1152.15,680.54 1154.46,676.23 1156.77,671.77 1159.08,667.18 1161.38,662.45 1163.69,657.61 1166,652.65 1168.31,647.59 1170.62,642.43 1172.92,637.19 1175.23,631.87 1177.54,626.48 1179.85,621.05 1182.15,615.58 1184.46,610.09 1186.77,604.6 1189.08,599.11 1191.38,593.65 1193.69,588.22 1196,582.86 1198.31,577.58 1200.62,572.39 1202.92,567.31 1205.23,562.36 1207.54,557.56 1209.85,552.92 1212.15,548.46 1214.46,544.21 1216.77,540.17 1219.08,536.36 1221.38,532.8 1223.69,529.5 1226,526.47 1228.31,523.73 1230.62,521.28 1232.92,519.15 1235.23,517.33 1237.54,515.83 1239.85,514.67 1242.15,513.84 1244.46,513.35 1246.77,513.2 1249.08,513.39 1251.38,513.93 1253.69,514.8 1256,516.01 1258.31,517.55 1260.62,519.41 1262.92,521.59 1265.23,524.07 1267.54,526.86 1269.85,529.92 1272.15,533.26 1274.46,536.85 1276.77,540.69 1279.08,544.76 1281.38,549.05 1283.69,553.53 1286,558.19 1288.31,563.01 1290.62,567.98 1292.92,573.07 1295.23,578.28 1297.54,583.57 1299.85,588.94 1302.15,594.37 1304.46,599.84 1306.77,605.33 1309.08,610.83 1311.38,616.31 1313.69,621.78 1316,627.21 1318.31,632.58 1320.62,637.89 1322.92,643.13 1325.23,648.27 1327.54,653.32 1329.85,658.26 1332.15,663.09 1334.46,667.8 1336.77,672.37 1339.08,676.81 1341.38,681.11 1343.69,685.26 1346,689.27 1348.31,693.13 1350.62,696.83 1352.92,700.39 1355.23,703.79 1357.54,707.04 1359.85,710.14 1362.15,713.08 1364.46,715.89 1366.77,718.54 1369.08,721.06 1371.38,723.43 1373.69,725.67 1376,727.78 1378.31,729.76 1380.62,731.62 1382.92,733.37 1385.23,735 1387.54,736.52 1389.85,737.93 1392.15,739.25 1394.46,740.48 1396.77,741.61 1399.08,742.66 1401.38,743.63 1403.69,744.53 1406,745.35 1408.31,746.11 1410.62,746.81 1412.92,747.45 1415.23,748.03 1417.54,748.57 1419.85,749.05 1422.15,749.5 1424.46,749.9 1426.77,750.27 1429.08,750.6 1431.38,750.9 1433.69,751.17 1436,751.41 1438.31,751.63 1440.62,751.83 1442.92,752.01 1445.23,752.17 1447.54,752.31 1449.85,752.44 1452.15,752.55 1454.46,752.65 1456.77,752.75 1459.08,752.83 1461.38,752.9 1463.69,752.96 1466,753.01 1468.31,753.06 1470.62,753.11 1472.92,753.14 1475.23,753.18 1477.54,753.21 1479.85,753.23 1482.15,753.26 1484.46,753.28 1486.77,753.29 1489.08,753.31 1491.38,753.32 1493.69,753.33 1496,753.34 1498.31,753.35 1500.62,753.36 1502.92,753.36 1505.23,753.37 1507.54,753.37 1509.85,753.38 1512.15,753.38 1514.46,753.38 1516.77,753.39 1519.08,753.39 1521.38,753.39 1523.69,753.39 1526,753.39 1528.31,753.39 1530.62,753.4 1532.92,753.4 1535.23,753.4 1537.54,753.4 1539.85,753.4 1542.15,753.4 1544.46,753.4 1546.77,753.4 1549.08,753.4 1551.38,753.4 1553.69,753.4 1556,753.4 1557.08,753.4"/>
<polyline class="c" transform="scale(1.3,1)" stroke="#0a7c7c" stroke-width="8.6" points="838.31,753.4 840.62,753.4 842.92,753.4 845.23,753.4 847.54,753.4 849.85,753.4 852.15,753.4 854.46,753.4 856.77,753.4 859.08,753.4 861.38,753.4 863.69,753.4 866,753.4 868.31,753.4 870.62,753.4 872.92,753.4 875.23,753.4 877.54,753.4 879.85,753.4 882.15,753.4 884.46,753.4 886.77,753.4 889.08,753.4 891.38,753.4 893.69,753.4 896,753.4 898.31,753.4 900.62,753.4 902.92,753.4 905.23,753.4 907.54,753.4 909.85,753.4 912.15,753.4 914.46,753.4 916.77,753.4 919.08,753.4 921.38,753.4 923.69,753.4 926,753.4 928.31,753.4 930.62,753.4 932.92,753.4 935.23,753.4 937.54,753.4 939.85,753.4 942.15,753.4 944.46,753.4 946.77,753.4 949.08,753.4 951.38,753.4 953.69,753.4 956,753.4 958.31,753.4 960.62,753.4 962.92,753.4 965.23,753.4 967.54,753.4 969.85,753.4 972.15,753.4 974.46,753.4 976.77,753.4 979.08,753.4 981.38,753.4 983.69,753.4 986,753.4 988.31,753.39 990.62,753.39 992.92,753.39 995.23,753.39 997.54,753.39 999.85,753.39 1002.15,753.39 1004.46,753.39 1006.77,753.39 1009.08,753.39 1011.38,753.38 1013.69,753.38 1016,753.38 1018.31,753.38 1020.62,753.38 1022.92,753.37 1025.23,753.37 1027.54,753.37 1029.85,753.36 1032.15,753.36 1034.46,753.36 1036.77,753.35 1039.08,753.35 1041.38,753.34 1043.69,753.34 1046,753.33 1048.31,753.32 1050.62,753.31 1052.92,753.3 1055.23,753.3 1057.54,753.28 1059.85,753.27 1062.15,753.26 1064.46,753.25 1066.77,753.23 1069.08,753.22 1071.38,753.2 1073.69,753.18 1076,753.16 1078.31,753.14 1080.62,753.11 1082.92,753.09 1085.23,753.06 1087.54,753.03 1089.85,753 1092.15,752.96 1094.46,752.92 1096.77,752.88 1099.08,752.84 1101.38,752.79 1103.69,752.74 1106,752.68 1108.31,752.62 1110.62,752.56 1112.92,752.49 1115.23,752.42 1117.54,752.34 1119.85,752.26 1122.15,752.17 1124.46,752.07 1126.77,751.97 1129.08,751.86 1131.38,751.74 1133.69,751.62 1136,751.49 1138.31,751.35 1140.62,751.2 1142.92,751.04 1145.23,750.87 1147.54,750.69 1149.85,750.5 1152.15,750.3 1154.46,750.09 1156.77,749.87 1159.08,749.63 1161.38,749.39 1163.69,749.12 1166,748.85 1168.31,748.56 1170.62,748.25 1172.92,747.93 1175.23,747.59 1177.54,747.24 1179.85,746.87 1182.15,746.48 1184.46,746.08 1186.77,745.65 1189.08,745.21 1191.38,744.74 1193.69,744.26 1196,743.75 1198.31,743.23 1200.62,742.68 1202.92,742.11 1205.23,741.52 1207.54,740.91 1209.85,740.28 1212.15,739.62 1214.46,738.94 1216.77,738.23 1219.08,737.5 1221.38,736.75 1223.69,735.98 1226,735.18 1228.31,734.36 1230.62,733.51 1232.92,732.64 1235.23,731.75 1237.54,730.83 1239.85,729.89 1242.15,728.93 1244.46,727.95 1246.77,726.94 1249.08,725.91 1251.38,724.87 1253.69,723.8 1256,722.72 1258.31,721.61 1260.62,720.49 1262.92,719.36 1265.23,718.21 1267.54,717.04 1269.85,715.86 1272.15,714.67 1274.46,713.47 1276.77,712.26 1279.08,711.04 1281.38,709.81 1283.69,708.58 1286,707.35 1288.31,706.11 1290.62,704.88 1292.92,703.64 1295.23,702.41 1297.54,701.19 1299.85,699.97 1302.15,698.76 1304.46,697.56 1306.77,696.37 1309.08,695.2 1311.38,694.04 1313.69,692.91 1316,691.79 1318.31,690.69 1320.62,689.62 1322.92,688.58 1325.23,687.56 1327.54,686.57 1329.85,685.61 1332.15,684.69 1334.46,683.8 1336.77,682.95 1339.08,682.13 1341.38,681.35 1343.69,680.62 1346,679.93 1348.31,679.28 1350.62,678.68 1352.92,678.12 1355.23,677.61 1357.54,677.15 1359.85,676.74 1362.15,676.38 1364.46,676.07 1366.77,675.81 1369.08,675.61 1371.38,675.45 1373.69,675.35 1376,675.3 1378.31,675.31 1380.62,675.37 1382.92,675.49 1385.23,675.66 1387.54,675.88 1389.85,676.16 1392.15,676.49 1394.46,676.87 1396.77,677.31 1399.08,677.8 1401.38,678.33 1403.69,678.92 1406,679.55 1408.31,680.23 1410.62,680.95 1412.92,681.72 1415.23,682.53 1417.54,683.38 1419.85,684.26 1422.15,685.19 1424.46,686.15 1426.77,687.14 1429.08,688.17 1431.38,689.22 1433.69,690.3 1436,691.41 1438.31,692.54 1440.62,693.69 1442.92,694.86 1445.23,696.05 1447.54,697.25 1449.85,698.47 1452.15,699.7 1454.46,700.94 1456.77,702.18 1459.08,703.43 1461.38,704.69 1463.69,705.95 1466,707.2 1468.31,708.46 1470.62,709.71 1472.92,710.96 1475.23,712.2 1477.54,713.43 1479.85,714.66 1482.15,715.87 1484.46,717.07 1486.77,718.25 1489.08,719.43 1491.38,720.58 1493.69,721.72 1496,722.84 1498.31,723.94 1500.62,725.02 1502.92,726.09 1505.23,727.13 1507.54,728.15 1509.85,729.14 1512.15,730.12 1514.46,731.07 1516.77,731.99 1519.08,732.89 1521.38,733.77 1523.69,734.63 1526,735.46 1528.31,736.26 1530.62,737.04 1532.92,737.8 1535.23,738.53 1537.54,739.23 1539.85,739.92 1542.15,740.58 1544.46,741.21 1546.77,741.82 1549.08,742.41 1551.38,742.98 1553.69,743.52 1556,744.05 1557.08,744.28"/>
<polyline class="c" stroke="#b9cab9" stroke-width="3.2" points="1091.8,753.5 1108,753 1118.8,750.3 1166.7,744.6 1205.1,737.8 1220,735.6 1254.5,728.8 1277.6,719.6 1294.8,711.5 1306.3,704.6 1314.4,695.4 1321.3,683.9 1329.4,670.1 1335.1,655.1 1340.9,637.8 1346.6,614.8 1352.4,591.8 1360.3,568.8 1364.7,545.7 1373.2,505 1381.7,465.1 1389.2,415 1394.5,365.7 1403.7,319.6 1408.3,296.6 1411.8,279.4 1417.6,265.5 1424.5,257.5 1440.6,250.6 1454.4,244.8 1463.6,237.9 1475.1,227.6 1486.6,212.6 1498.1,198.8 1508.5,190.7 1515,189.2 1521.2,189.6 1525.8,196.5 1532.7,225.3 1539.6,250.6 1546.5,265.5 1553.4,282.8 1559.1,303.5 1566,334.5 1571.8,357.6 1577.6,380.6 1584.5,401.3 1591.4,420.9 1600.6,438.1 1612.1,455.4 1623.6,466.9 1635.1,476.1 1652.4,487.5 1661,496.5 1675.1,513 1686.6,526.8 1698.1,543.7 1709.7,559.1 1720,573.5 1737.4,595.1 1752,612.5 1766.1,627.5 1780,636.4 1792.5,643.6 1804.9,649.9 1817.4,657.4 1829.9,664.8 1842.3,672.8 1854.8,679.8 1867.3,687.3 1879.8,693.5 1892.2,699.07 1904.7,704.65 1917.2,709.63 1929.6,713.9 1942.1,717.58 1954.6,721.26 1967,724.34 1979.5,727.42 1992,729.9 2004.4,731.68 2022.2,733.4"/>
<circle cx="1453.3" cy="245.9" r="2.8" fill="#0a140a"/>
</g>
<rect x="1095.8" y="148.4" width="922.4" height="632.8" fill="none" stroke="#1c1c1c" stroke-width="3.6"/>
<line x1="1095.8" y1="141.5" x2="1095.8" y2="148.4" stroke="#1c1c1c" stroke-width="3"/>
<line x1="2018.2" y1="141.5" x2="2018.2" y2="148.4" stroke="#1c1c1c" stroke-width="3"/>
<line x1="1095.8" y1="199.7" x2="1115" y2="199.7" stroke="#1c1c1c" stroke-width="3.4"/>
<line x1="1095.8" y1="476.4" x2="1115" y2="476.4" stroke="#1c1c1c" stroke-width="3.4"/>
<line x1="1118.8" y1="765" x2="1118.8" y2="781.2" stroke="#1c1c1c" stroke-width="3.2"/>
<text transform="translate(1068.35,842) scale(1.1400,1)" font-size="59">350</text>
<line x1="1343.85" y1="765" x2="1343.85" y2="781.2" stroke="#1c1c1c" stroke-width="3.2"/>
<text transform="translate(1294.46,842) scale(1.1400,1)" font-size="59">400</text>
<line x1="1568.9" y1="765" x2="1568.9" y2="781.2" stroke="#1c1c1c" stroke-width="3.2"/>
<text transform="translate(1519.51,842) scale(1.1400,1)" font-size="59">450</text>
<line x1="1793.95" y1="765" x2="1793.95" y2="781.2" stroke="#1c1c1c" stroke-width="3.2"/>
<text transform="translate(1743.5,842) scale(1.1400,1)" font-size="59">500</text>
<line x1="2019" y1="765" x2="2019" y2="781.2" stroke="#1c1c1c" stroke-width="3.2"/>
<text transform="translate(1968.55,842) scale(1.1400,1)" font-size="59">550</text>
<text transform="translate(1215.3,909.3) scale(1.1182,1)" font-size="78">Wavelength, nm</text>
<text transform="translate(1071.6,755.04) rotate(-90) scale(1.1700,1)" font-size="79" letter-spacing="-5.368">PL Intensity, a.u.</text>
<text transform="scale(1.1400,1)" font-size="59"><tspan x="1390.06" y="238.8" textLength="215.29" lengthAdjust="spacingAndGlyphs">1Sn-TiO</tspan><tspan x="1604.56" y="260.8" font-size="27" textLength="15.54" lengthAdjust="spacingAndGlyphs">2</tspan> <tspan x="1637.53" y="238.8" textLength="110.37" lengthAdjust="spacingAndGlyphs">MW</tspan></text>
</g>
</svg></body></html>
